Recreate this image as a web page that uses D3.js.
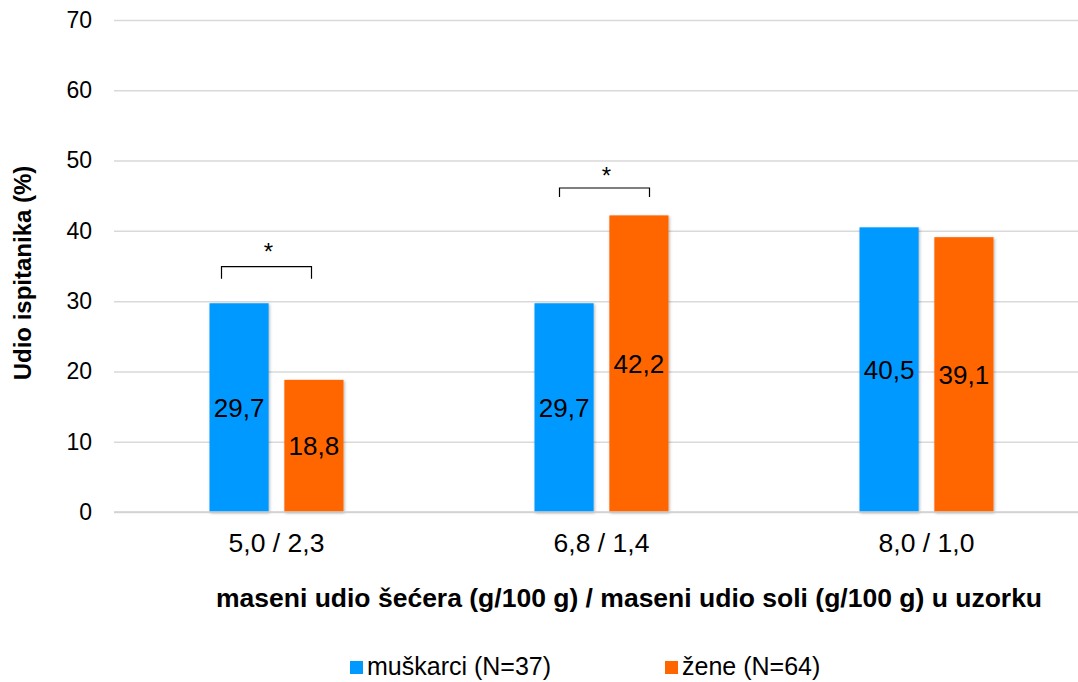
<!DOCTYPE html>
<html>
<head>
<meta charset="utf-8">
<script src="https://cdn.jsdelivr.net/npm/d3@7"></script>
<style>
  body { margin: 0; background: #fff; }
  svg { font-family: "Liberation Sans", Arial, sans-serif; }
</style>
</head>
<body>
<svg id="chart" width="1078" height="682"></svg>
<script>
const categories = ["5,0 / 2,3", "6,8 / 1,4", "8,0 / 1,0"];
const seriesNames = ["muškarci (N=37)", "žene (N=64)"];
const muskarci = [29.7, 29.7, 40.5];
const zene = [18.8, 42.2, 39.1];
const yTicks = [0, 10, 20, 30, 40, 50, 60, 70];
// significance brackets: category and level (in % units)
const brackets = [
  { cat: "5,0 / 2,3", level: 34.9 },
  { cat: "6,8 / 1,4", level: 46.1 }
];

const colors = ["#0099ff", "#ff6600"];
const bracketShift = [-10, 3];
const bracketDrop = [12, 9];
const svg = d3.select("#chart");
const margin = { top: 20, left: 114, bottom: 170 };
const plotBottom = 682 - margin.bottom;

const x0 = d3.scaleBand()
  .domain(categories)
  .range([margin.left, margin.left + 975])
  .paddingInner(0.5877)
  .paddingOuter(0.29385);

const x1 = d3.scaleBand()
  .domain(seriesNames)
  .range([0, x0.bandwidth()])
  .paddingInner(0.21);

const y = d3.scaleLinear().domain([0, 70]).range([plotBottom, margin.top]);

const defs = svg.append("defs");
const f = defs.append("filter").attr("id", "shadow")
  .attr("x", "-20%").attr("y", "-5%").attr("width", "140%").attr("height", "110%");
f.append("feDropShadow").attr("dx", 1).attr("dy", 1).attr("stdDeviation", 1.5)
  .attr("flood-color", "#000").attr("flood-opacity", 0.3);

// gridlines
const yAxis = svg.append("g")
  .attr("transform", `translate(${margin.left},0)`)
  .call(d3.axisLeft(y).tickValues(yTicks).tickSize(-975).tickPadding(22));
yAxis.select(".domain").remove();
yAxis.selectAll(".tick line").attr("stroke", "#d9d9d9").attr("stroke-width", 1.5);
yAxis.selectAll(".tick text").attr("font-size", 23).attr("fill", "#000")
  .attr("font-family", "Liberation Sans, Arial, sans-serif");

// bars
const rows = categories.map((c, i) => ({ cat: c, vals: [muskarci[i], zene[i]] }));
const groups = svg.selectAll(".grp").data(rows).enter().append("g")
  .attr("transform", d => `translate(${x0(d.cat)},0)`);

groups.selectAll("rect")
  .data(d => d.vals.map((v, j) => ({ name: seriesNames[j], v, j })))
  .enter().append("rect")
  .attr("x", d => x1(d.name))
  .attr("y", d => y(d.v))
  .attr("width", x1.bandwidth())
  .attr("height", d => plotBottom - y(d.v))
  .attr("fill", d => colors[d.j])
  .attr("filter", "url(#shadow)");

groups.selectAll("text.val")
  .data(d => d.vals.map((v, j) => ({ name: seriesNames[j], v, j })))
  .enter().append("text")
  .attr("class", "val")
  .attr("x", d => x1(d.name) + x1.bandwidth() / 2)
  .attr("y", d => (y(d.v) + plotBottom) / 2)
  .attr("dy", "0.35em")
  .attr("text-anchor", "middle")
  .attr("font-size", 26)
  .text(d => d.v.toFixed(1).replace(".", ","));

// baseline
svg.append("line")
  .attr("x1", margin.left).attr("x2", 1078)
  .attr("y1", y(0)).attr("y2", y(0))
  .attr("stroke", "#d0d0d0").attr("stroke-width", 1.5);

// x axis labels
svg.selectAll(".xlab").data(categories).enter().append("text")
  .attr("x", d => x0(d) + x0.bandwidth() / 2)
  .attr("y", plotBottom + 40)
  .attr("text-anchor", "middle")
  .attr("font-size", 26.5)
  .text(d => d);

// brackets
brackets.forEach((b, i) => {
  const cx = x0(b.cat) + x0.bandwidth() / 2 + bracketShift[i];
  const yy = y(b.level);
  svg.append("path")
    .attr("d", `M${cx - 45},${yy + bracketDrop[i]}V${yy}H${cx + 45}V${yy + bracketDrop[i]}`)
    .attr("fill", "none").attr("stroke", "#000").attr("stroke-width", 1.2);
  svg.append("text")
    .attr("x", cx + 2).attr("y", yy + 5 - bracketDrop[i])
    .attr("text-anchor", "middle").attr("font-size", 24)
    .text("*");
});

// axis titles
svg.append("text")
  .attr("transform", `translate(31,273) rotate(-90)`)
  .attr("text-anchor", "middle").attr("font-size", 24).attr("font-weight", "bold")
  .text("Udio ispitanika (%)");

svg.append("text")
  .attr("x", 629).attr("y", 607)
  .attr("text-anchor", "middle").attr("font-size", 26.5).attr("font-weight", "bold")
  .text("maseni udio šećera (g/100 g) / maseni udio soli (g/100 g) u uzorku");

// legend
const legendX = [350, 665];
seriesNames.forEach((n, i) => {
  svg.append("rect").attr("x", legendX[i]).attr("y", 661)
    .attr("width", 13).attr("height", 13).attr("fill", colors[i]);
  svg.append("text").attr("x", legendX[i] + 17).attr("y", 675)
    .attr("font-size", 25).text(n);
});
</script>
</body>
</html>
